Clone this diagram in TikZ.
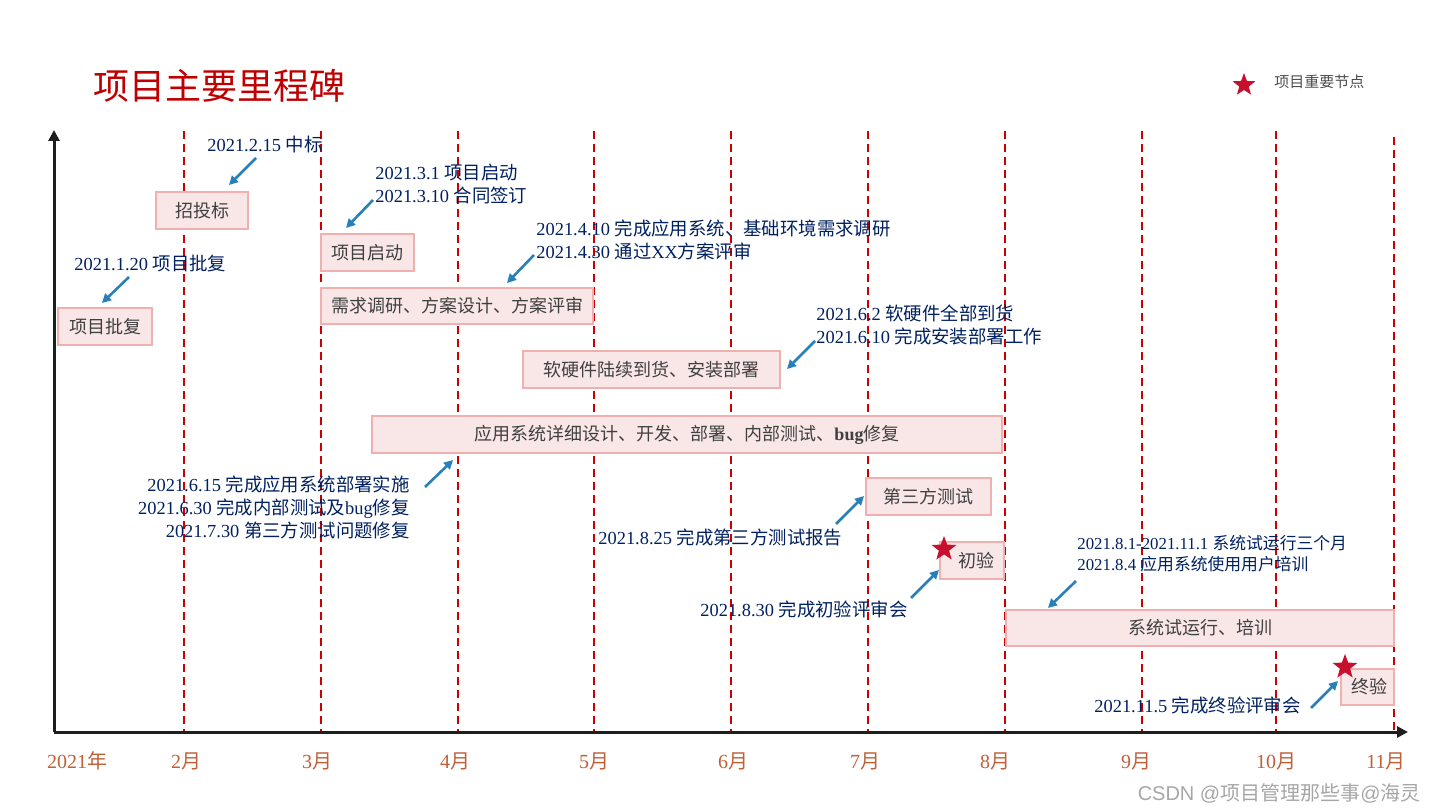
\documentclass[tikz,border=0pt]{standalone}
\usepackage{fontspec}
\setmainfont{Liberation Serif}
\newfontfamily\cjk{Noto Sans CJK SC}
\newfontfamily\wmfont{Liberation Sans}
\usetikzlibrary{arrows.meta,shapes.geometric}
% automatic CJK font switching
\XeTeXinterchartokenstate=1
\newXeTeXintercharclass\CJKcls
\newcount\cjkc
\cjkc="3000
\loop\XeTeXcharclass\cjkc=\CJKcls\ifnum\cjkc<"303F \advance\cjkc by 1 \repeat
\cjkc="4E00
\loop\XeTeXcharclass\cjkc=\CJKcls\ifnum\cjkc<"9FFF \advance\cjkc by 1 \repeat
\cjkc="FF00
\loop\XeTeXcharclass\cjkc=\CJKcls\ifnum\cjkc<"FFEF \advance\cjkc by 1 \repeat
\XeTeXinterchartoks 0 \CJKcls = {\cjk}
\XeTeXinterchartoks 4095 \CJKcls = {\cjk}
\XeTeXinterchartoks \CJKcls 0 = {\rmfamily}
\XeTeXinterchartoks \CJKcls 4095 = {\rmfamily}
\XeTeXinterchartoks 4095 0 = {\rmfamily}
\newcommand\nointerchar{\XeTeXinterchartokenstate=0\relax}
\definecolor{boxfill}{RGB}{249,230,230}
\definecolor{boxborder}{RGB}{241,176,176}
\definecolor{boxtext}{RGB}{64,64,64}
\definecolor{navy}{RGB}{0,32,96}
\definecolor{arrowblue}{RGB}{41,128,185}
\definecolor{gridred}{RGB}{204,0,0}
\definecolor{monthcol}{RGB}{192,96,56}
\definecolor{titlered}{RGB}{192,0,0}
\definecolor{starred}{RGB}{200,16,46}
\definecolor{axiscol}{RGB}{30,30,30}
\begin{document}
\begin{tikzpicture}[x=0.5pt,y=-0.5pt,
  stagebox/.style={draw=boxborder,fill=boxfill,line width=1.4pt,rectangle,inner sep=0pt,
    text=boxtext,font=\fontsize{9}{11}\selectfont},
  note/.style={inner sep=0pt,text=navy,font=\fontsize{9.2}{11.5}\selectfont},
  smallnote/.style={inner sep=0pt,text=navy,font=\fontsize{8.4}{10.5}\selectfont},
  barrow/.style={draw=arrowblue,line width=1.3pt,-{Triangle[length=4.5pt,width=4.5pt]}},
  gridline/.style={draw=gridred,line width=1pt,dash pattern=on 4pt off 2.5pt},
  axisline/.style={draw=axiscol,line width=1.5pt,-{Triangle[length=5.5pt,width=5.5pt]}},
  monthlbl/.style={inner sep=0pt,text=monthcol,font=\fontsize{10}{12}\selectfont},
  milestar/.style={star,star points=5,star point ratio=2.4,fill=starred,draw=none,inner sep=0pt,minimum size=13pt}]
\useasboundingbox (0,0) rectangle (1436,812);
% grid lines
\foreach \gx in {184,321,458,594,731,868,1005,1142,1276}
  \draw[gridline] (\gx,131) -- (\gx,732);
\draw[gridline] (1394,137) -- (1394,732);
% axes
\coordinate (origin) at (54,732);
\coordinate (ytop) at (54,130);
\coordinate (xend) at (1408,732);
\draw[axisline] (origin) -- (ytop);
\draw[axisline] (origin) -- (xend);
% title and legend
\node[anchor=west,inner sep=0pt,text=titlered,font=\fontsize{18}{20}\selectfont] (title) at (93,86) {项目主要里程碑};
\node[milestar,minimum size=12pt] (legstar) at (1244,85) {};
\node[anchor=west,inner sep=0pt,text=black!70,font=\fontsize{7.5}{9}\selectfont] (legtext) at (1274,82) {项目重要节点};
% month labels
\node[monthlbl] (m1) at (77,761) {2021年};
\node[monthlbl] (m2) at (186,761) {2月};
\node[monthlbl] (m3) at (317,761) {3月};
\node[monthlbl] (m4) at (455,761) {4月};
\node[monthlbl] (m5) at (594,761) {5月};
\node[monthlbl] (m6) at (733,761) {6月};
\node[monthlbl] (m7) at (865,761) {7月};
\node[monthlbl] (m8) at (995,761) {8月};
\node[monthlbl] (m9) at (1136,761) {9月};
\node[monthlbl] (m10) at (1276,761) {10月};
\node[monthlbl] (m11) at (1386,761) {11月};
% stage boxes
\node[stagebox,minimum width=47pt,minimum height=18.5pt] (pf) at (105,326.5) {项目批复};
\node[stagebox,minimum width=46pt,minimum height=18.5pt] (ztb) at (202,210.5) {招投标};
\node[stagebox,minimum width=46.5pt,minimum height=18.5pt] (qd) at (367.5,252.5) {项目启动};
\node[stagebox,minimum width=136pt,minimum height=18pt] (xq) at (457,306) {需求调研、方案设计、方案评审};
\node[stagebox,minimum width=128.5pt,minimum height=18.5pt] (rj) at (651.5,369.5) {软硬件陆续到货、安装部署};
\node[stagebox,minimum width=315pt,minimum height=18.5pt] (yy) at (687,434.5) {应用系统详细设计、开发、部署、内部测试、{\rmfamily\bfseries bug}修复};
\node[stagebox,minimum width=62.5pt,minimum height=18.5pt] (dsf) at (928.5,496.5) {第三方测试};
\node[stagebox,minimum width=32pt,minimum height=18.5pt] (cy) at (972,560.5) {\hspace{4pt}初验};
\node[stagebox,minimum width=194pt,minimum height=18pt] (sy) at (1200,628) {系统试运行、培训};
\node[stagebox,minimum width=26.5pt,minimum height=18pt] (zy) at (1367.5,687) {\hspace{2pt}终验};
% stars
\node[milestar] (star1) at (944,549) {};
\node[milestar] (star2) at (1345,667) {};
% annotations
\node[note,anchor=west] (n1) at (207,145) {2021.2.15 中标};
\node[note,anchor=west] (n2) at (74,264) {2021.1.20 项目批复};
\node[note,anchor=west,align=left] (n3) at (375,184.5) {2021.3.1 项目启动\\2021.3.10 合同签订};
\node[note,anchor=west,align=left] (n4) at (536,239.5) {2021.4.10 完成应用系统、基础环境需求调研\\2021.4.30 通过XX方案评审};
\node[note,anchor=west,align=left] (n5) at (816,325) {2021.6.2 软硬件全部到货\\2021.6.10 完成安装部署工作};
\node[note,anchor=east,align=right] (n6) at (410,507.5) {2021.6.15 完成应用系统部署实施\\2021.6.30 完成内部测试及bug修复\\2021.7.30 第三方测试问题修复};
\node[note,anchor=west] (n7) at (598,538) {2021.8.25 完成第三方测试报告};
\node[note,anchor=west] (n8) at (700,609) {2021.8.30 完成初验评审会};
\node[smallnote,anchor=west,align=left] (n9) at (1077,553.5) {2021.8.1-2021.11.1 系统试运行三个月\\2021.8.4 应用系统使用用户培训};
\node[note,anchor=west] (n10) at (1094,705) {2021.11.5 完成终验评审会};
% arrows
\coordinate (a1s) at (256,158); \coordinate (a1e) at (229,185);
\coordinate (a2s) at (129,277); \coordinate (a2e) at (102,303);
\coordinate (a3s) at (373,200); \coordinate (a3e) at (346,228);
\coordinate (a4s) at (534,255); \coordinate (a4e) at (507,283);
\coordinate (a5s) at (815,341); \coordinate (a5e) at (787,369);
\coordinate (a6s) at (425,487); \coordinate (a6e) at (453,460);
\coordinate (a7s) at (836,524); \coordinate (a7e) at (864,496);
\coordinate (a8s) at (911,598); \coordinate (a8e) at (939,570);
\coordinate (a9s) at (1076,581); \coordinate (a9e) at (1048,608);
\coordinate (a10s) at (1311,708); \coordinate (a10e) at (1338,681);
\foreach \i in {1,...,10} \draw[barrow] (a\i s) -- (a\i e);
% watermark
\node[anchor=east,inner sep=0pt,text=black!35,font=\fontsize{10}{12}\selectfont] (wm) at (1421,793) {\nointerchar\wmfont CSDN @{\cjk 项目管理那些事}@{\cjk 海灵}};
\end{tikzpicture}
\end{document}
